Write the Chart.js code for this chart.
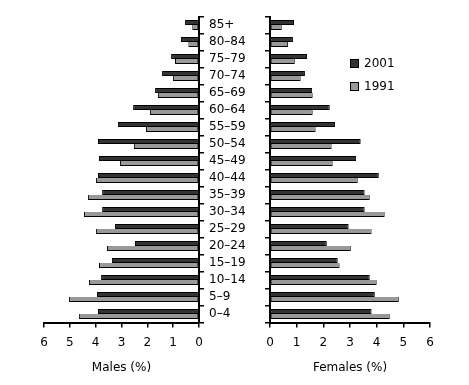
<!DOCTYPE html>
<html>
<head>
<meta charset="utf-8">
<script src="https://cdn.jsdelivr.net/npm/chart.js@4/dist/chart.umd.min.js"></script>
<style>
  html, body { margin:0; padding:0; background:#fff; }
  #wrap { position:relative; width:469px; height:385px; overflow:hidden; }
  canvas { position:absolute; left:0; top:0; }
  .lg { position:absolute; font-family:'DejaVu Sans', sans-serif; font-size:12px; color:#000; line-height:14px; }
  .sw { position:absolute; width:9px; height:9px; box-sizing:border-box; border:1px solid #000; }
</style>
</head>
<body>
<div id="wrap">
  <canvas id="male" width="469" height="385"></canvas>
  <canvas id="female" width="469" height="385"></canvas>
  <div class="sw" style="left:350px; top:59px; background:#333333;"></div>
  <div class="lg" style="left:364px; top:56px;">2001</div>
  <div class="sw" style="left:350px; top:82px; background:#999999;"></div>
  <div class="lg" style="left:364px; top:79px;">1991</div>
</div>
<script>
const categories = ['85+','80–84','75–79','70–74','65–69','60–64','55–59','50–54','45–49','40–44','35–39','30–34','25–29','20–24','15–19','10–14','5–9','0–4'];
const males2001   = [0.54,0.70,1.08,1.43,1.70,2.55,3.14,3.91,3.87,3.91,3.75,3.75,3.25,2.48,3.37,3.79,3.95,3.91];
const males1991   = [0.26,0.41,0.93,1.01,1.59,1.90,2.05,2.52,3.06,3.99,4.30,4.45,3.99,3.56,3.87,4.26,5.03,4.65];
const females2001 = [0.90,0.86,1.39,1.31,1.58,2.24,2.44,3.40,3.23,4.08,3.55,3.55,2.95,2.13,2.54,3.74,3.93,3.81];
const females1991 = [0.44,0.68,0.93,1.15,1.60,1.60,1.71,2.31,2.35,3.29,3.74,4.30,3.81,3.03,2.61,4.00,4.83,4.49];
const seriesNames = ['2001','1991'];
const xTickMin = 0, xTickMax = 6, xTickStep = 1;

const font = { family: "'DejaVu Sans', sans-serif", size: 12 };
Chart.defaults.color = '#000';
Chart.defaults.font = font;

function ds(label, data, color, skip) {
  return { label, data, backgroundColor: color, borderColor: '#000', borderWidth: 1,
           borderSkipped: skip, barPercentage: 1.0, categoryPercentage: 10 / 17 };
}
const gridOpts = { drawOnChartArea: false, drawTicks: true, tickLength: 5, color: '#000', lineWidth: 1.5 };
const borderOpts = { color: '#000', width: 2 };

function xScale(reverse, title) {
  return {
    type: 'linear', reverse, min: xTickMin, max: xTickMax,
    ticks: { stepSize: xTickStep, padding: 8, font, maxRotation: 0 },
    grid: gridOpts, border: borderOpts,
    title: { display: true, text: title, font, padding: { top: 0, bottom: 10 } },
    afterFit: s => { s.height = 62.5; }
  };
}

new Chart(document.getElementById('male'), {
  type: 'bar',
  data: { labels: categories, datasets: [ ds(seriesNames[0], males2001, '#333333', false), ds(seriesNames[1], males1991, '#999999', 'top') ] },
  options: {
    indexAxis: 'y', responsive: false, animation: false, devicePixelRatio: 1,
    layout: { padding: { left: 44, right: 220, top: 16.5, bottom: 0 } },
    plugins: { legend: { display: false }, tooltip: { enabled: false } },
    scales: {
      x: xScale(true, 'Males (%)'),
      y: { position: 'right', grid: gridOpts, border: borderOpts,
           ticks: { padding: 5, font, autoSkip: false },
           afterFit: s => { s.width = 50; } }
    }
  }
});

new Chart(document.getElementById('female'), {
  type: 'bar',
  data: { labels: categories, datasets: [ ds(seriesNames[0], females2001, '#333333', false), ds(seriesNames[1], females1991, '#999999', 'top') ] },
  options: {
    indexAxis: 'y', responsive: false, animation: false, devicePixelRatio: 1,
    layout: { padding: { left: 264, right: 39, top: 16.5, bottom: 0 } },
    plugins: { legend: { display: false }, tooltip: { enabled: false } },
    scales: {
      x: xScale(false, 'Females (%)'),
      y: { position: 'left', grid: gridOpts, border: borderOpts,
           ticks: { display: false },
           afterFit: s => { s.width = 6; } }
    }
  }
});
</script>
</body>
</html>
